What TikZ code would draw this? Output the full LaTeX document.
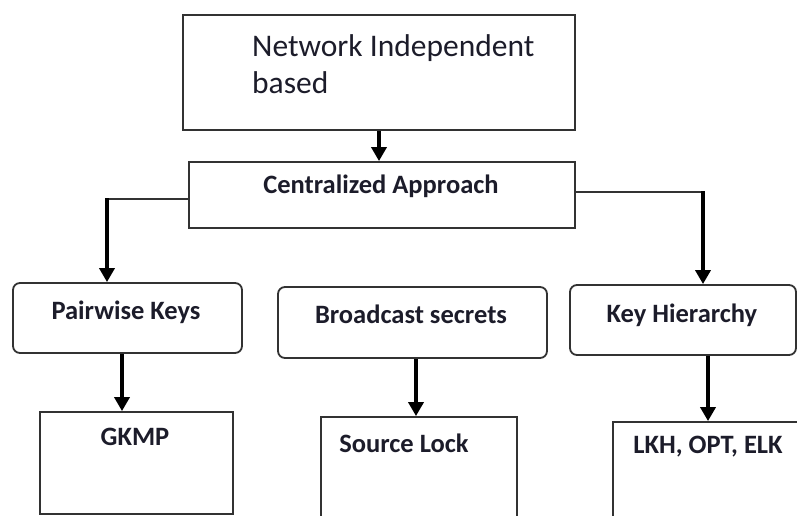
\documentclass[tikz,border=0pt]{standalone}
\usepackage{fontspec}
\setmainfont{Carlito}
\usetikzlibrary{arrows.meta}
\definecolor{ink}{RGB}{28,28,42}
\definecolor{edge}{RGB}{50,50,50}
\begin{document}
\begin{tikzpicture}[x=1pt,y=-1pt,
  box/.style={draw=edge, line width=1.8pt, inner sep=0pt},
  rbox/.style={box, rounded corners=7pt},
  lbl/.style={font=\bfseries\fontsize{26.5}{30}\selectfont, text=ink, inner sep=0pt, anchor=base},
  link/.style={draw=edge, line width=1.6pt},
  flow/.style={draw=black, line width=4pt, -{Triangle[length=14pt,width=15pt]}}]
\useasboundingbox (0,0) rectangle (797,516);
\clip (0,0) rectangle (797,516);

% boxes
\node[box, minimum width=392pt, minimum height=115pt] (top) at (379,72.5) {};
\node[box, minimum width=386pt, minimum height=66pt] (cent) at (382,195) {};
\node[rbox, minimum width=229pt, minimum height=70pt] (pair) at (127.5,318) {};
\node[rbox, minimum width=269pt, minimum height=71pt] (bcast) at (412.5,322.5) {};
\node[rbox, minimum width=226pt, minimum height=70pt] (keyh) at (683,320) {};
\node[box, minimum width=193pt, minimum height=102pt] (gkmp) at (136.5,463) {};
\node[box, minimum width=196pt, minimum height=123pt] (slock) at (419,478.5) {};
\node[box, minimum width=217pt, minimum height=118pt] (lkh) at (721.5,481) {};

% labels (the base anchor of a two-line node sits on its last line)
\node[font=\fontsize{31.5}{37}\selectfont, text=ink, inner sep=0pt, anchor=base west, align=left]
  (toptext) at (252,94) {Network Independent\\based};
\node[lbl] (centtext) at (381,193) {Centralized Approach};
\node[lbl] (pairtext) at (126,319) {Pairwise Keys};
\node[lbl] (bcasttext) at (411,323) {Broadcast secrets};
\node[lbl] (keyhtext) at (682,322) {Key Hierarchy};
\node[lbl] (gkmptext) at (135,445) {GKMP};
\node[lbl] (slocktext) at (404,452) {Source Lock};
\node[lbl] (lkhtext) at (708,453) {LKH, OPT, ELK};

% connectors
\draw[flow] (top.south) -- (top.south |- cent.north);

\coordinate (lcorner) at (107,199);
\draw[link] (lcorner -| cent.west) -- (lcorner);
\draw[flow] ([yshift=1pt]lcorner) -- (lcorner |- pair.north);

\coordinate (rcorner) at (703,192);
\draw[link] (rcorner -| cent.east) -- (rcorner);
\draw[flow] ([yshift=1pt]rcorner) -- (rcorner |- keyh.north);

\draw[flow] ([xshift=-5.5pt]pair.south) -- ([xshift=-5.5pt]pair.south |- gkmp.north);
\draw[flow] ([xshift=3.5pt]bcast.south) -- ([xshift=3.5pt]bcast.south |- slock.north);
\draw[flow] ([xshift=25pt]keyh.south) -- ([xshift=25pt]keyh.south |- lkh.north);
\end{tikzpicture}
\end{document}
